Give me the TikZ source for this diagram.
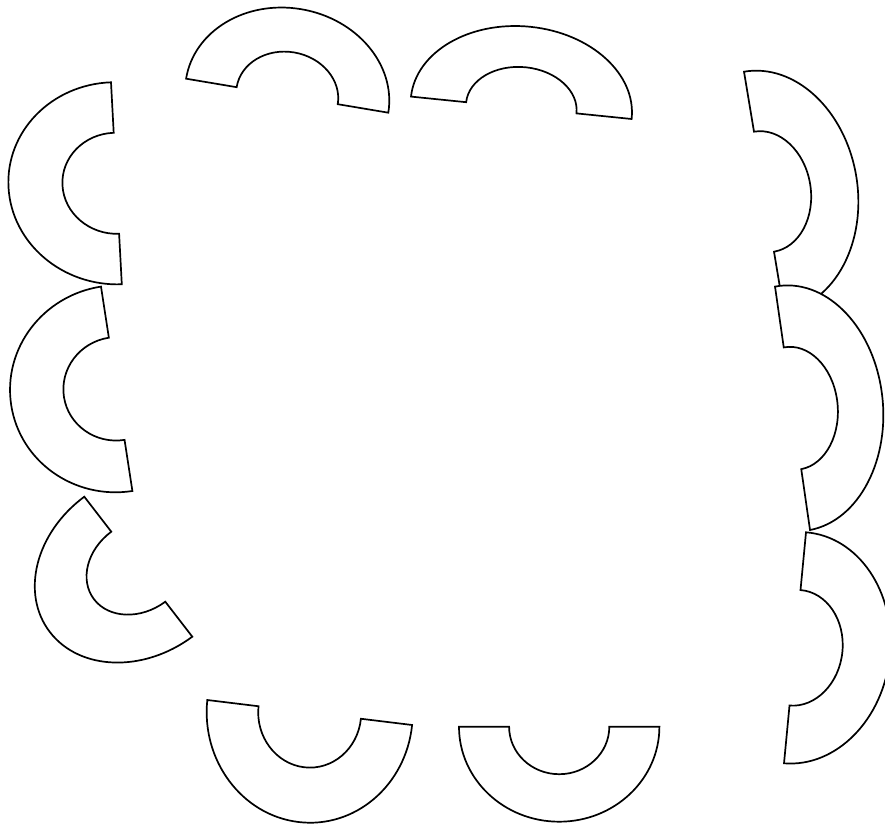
\documentclass[tikz,border=0pt]{standalone}
\usepackage{tikz}

\begin{document}
\begin{tikzpicture}[x=1pt, y=1pt,
    semianello/.style={draw=black, fill=white, line width=1.7pt, line join=miter}]
        \useasboundingbox (0,0) rectangle (885,825);
        \clip (0,0) rectangle (885,825);

        %semianelli in alto
        \draw[semianello, cm={101.1,-17,14,86.5,(287.2,729.3)}] (1,0) arc[start angle=0, end angle=180, radius=1] -- (-0.5,0) arc[start angle=180, end angle=0, radius=0.5] -- cycle;
        \draw[semianello, cm={110.3,-11.2,9,81,(521.3,717.2)}] (1,0) arc[start angle=0, end angle=180, radius=1] -- (-0.5,0) arc[start angle=180, end angle=0, radius=0.5] -- cycle;

        %semianelli a sinistra
        \draw[semianello, cm={-5.4,101,-107.9,-4,(116.4,641.7)}] (1,0) arc[start angle=0, end angle=180, radius=1] -- (-0.5,0) arc[start angle=180, end angle=0, radius=0.5] -- cycle;
        \draw[semianello, cm={-15.7,102.2,-105.5,-16.3,(116.7,436.2)}] (1,0) arc[start angle=0, end angle=180, radius=1] -- (-0.5,0) arc[start angle=180, end angle=0, radius=0.5] -- cycle;
        \draw[semianello, cm={-54,70,-88.3,-65.5,(138.3,258.3)}] (1,0) arc[start angle=0, end angle=180, radius=1] -- (-0.5,0) arc[start angle=180, end angle=0, radius=0.5] -- cycle;

        %semianelli in basso
        \draw[semianello, cm={102.4,-12.5,-11.3,-109.5,(309.7,112.5)}] (1,0) arc[start angle=0, end angle=180, radius=1] -- (-0.5,0) arc[start angle=180, end angle=0, radius=0.5] -- cycle;
        \draw[semianello, cm={100.2,0,0,-95,(559.2,98.3)}] (1,0) arc[start angle=0, end angle=180, radius=1] -- (-0.5,0) arc[start angle=180, end angle=0, radius=0.5] -- cycle;

        %semianelli a destra
        \draw[semianello, cm={-20,120,92.2,15.7,(764,633.3)}] (1,0) arc[start angle=0, end angle=180, radius=1] -- (-0.5,0) arc[start angle=180, end angle=0, radius=0.5] -- cycle;
        \draw[semianello, cm={-17.5,121.7,89.1,17,(792.5,416.7)}] (1,0) arc[start angle=0, end angle=180, radius=1] -- (-0.5,0) arc[start angle=180, end angle=0, radius=0.5] -- cycle;
        \draw[semianello, cm={11,115.5,94.8,-7.7,(795,177.2)}] (1,0) arc[start angle=0, end angle=180, radius=1] -- (-0.5,0) arc[start angle=180, end angle=0, radius=0.5] -- cycle;
    \end{tikzpicture}
\end{document}
